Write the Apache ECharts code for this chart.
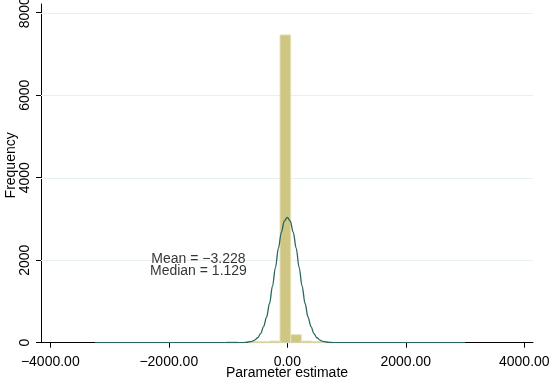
<!DOCTYPE html>
<html>
<head>
<meta charset="utf-8">
<script src="https://cdn.jsdelivr.net/npm/echarts@6/dist/echarts.min.js"></script>
<style>
  html, body { margin: 0; padding: 0; background: #ffffff; }
  #chart { width: 549px; height: 381px; }
</style>
</head>
<body>
<div id="chart"></div>
<script>
// Histogram bins (lower/upper edges) and frequencies
const binLower = [-1023, -663, -483, -303, -123, 57, 237, 417, 597];
const binUpper = [-843, -483, -303, -123, 57, 237, 417, 597, 777];
const binCount = [25, 25, 30, 40, 7460, 195, 40, 30, 20];

// Fitted normal density, scaled to frequency
const curveX = [-3245, -1000, -800, -700, -600, -550, -500, -450, -400, -350, -300, -250, -200, -150, -100, -50, 0,
                50, 100, 150, 200, 250, 300, 350, 400, 450, 500, 550, 600, 700, 800, 1000, 3000];
const curveY = [0, 0, 1, 6, 30, 62, 120, 220, 390, 620, 950, 1370, 1820, 2290, 2680, 2950, 3040,
                2950, 2680, 2290, 1820, 1370, 950, 620, 390, 220, 120, 62, 30, 6, 1, 0, 0];

// Tick values
const xTicks = [-4000, -2000, 0, 2000, 4000];
const yTicks = [0, 2000, 4000, 6000, 8000];

// Summary statistics shown on the plot
const statLines = ['Mean = \u22123.228', 'Median = 1.129'];
const statAnchor = [-1500, 1880];

const X_MIN = -4157, X_MAX = 4147, Y_MAX = 8210;
const fontFamily = '"Liberation Sans", Arial, Helvetica, sans-serif';

function fmtX(v) {
  const s = Math.abs(v).toFixed(2);
  return (v < 0 ? '\u2212' : '') + s;
}

const chart = echarts.init(document.getElementById('chart'), null, { renderer: 'canvas' });

const barData = binLower.map((lo, i) => [lo, binUpper[i], binCount[i]]);
const curveData = curveX.map((x, i) => [x, curveY[i]]);
const gridData = yTicks.filter(v => v > 0).map(v => [v]);

chart.setOption({
  animation: false,
  backgroundColor: '#ffffff',
  textStyle: { fontFamily: fontFamily },
  grid: { left: 41, right: 16, top: 4, bottom: 38.3, containLabel: false, outerBoundsMode: 'none' },
  xAxis: {
    type: 'value',
    min: X_MIN,
    max: X_MAX,
    name: 'Parameter estimate',
    nameLocation: 'middle',
    nameGap: 23,
    nameMoveOverlap: false,
    nameTextStyle: { color: '#000', fontSize: 14, fontFamily: fontFamily },
    axisLine: { show: true, onZero: false, lineStyle: { color: '#000', width: 1 } },
    axisTick: { show: true, length: 5, customValues: xTicks, lineStyle: { color: '#000' } },
    axisLabel: {
      customValues: xTicks,
      formatter: fmtX,
      alignMinLabel: 'center',
      alignMaxLabel: 'center',
      color: '#000', fontSize: 14, fontFamily: fontFamily, margin: 12
    },
    splitLine: { show: false }
  },
  yAxis: {
    type: 'value',
    min: 0,
    max: Y_MAX,
    name: 'Frequency',
    nameLocation: 'middle',
    nameRotate: 90,
    nameGap: 23,
    nameMoveOverlap: false,
    nameTextStyle: { color: '#000', fontSize: 14, fontFamily: fontFamily, padding: [0, 0, 0, 16] },
    axisLine: { show: true, onZero: false, lineStyle: { color: '#000', width: 1 } },
    axisTick: { show: true, length: 5, customValues: yTicks, lineStyle: { color: '#000' } },
    axisLabel: {
      customValues: yTicks,
      rotate: 90,
      alignMinLabel: 'center',
      alignMaxLabel: 'center',
      color: '#000', fontSize: 14, fontFamily: fontFamily, margin: 9,
      formatter: v => String(v)
    },
    splitLine: { show: false }
  },
  series: [
    {
      // horizontal reference lines behind the bars
      type: 'custom',
      z: 1,
      silent: true,
      data: gridData,
      encode: { y: 0 },
      renderItem: function (params, api) {
        const a = api.coord([X_MIN, api.value(0)]);
        const b = api.coord([X_MAX, api.value(0)]);
        return {
          type: 'line',
          shape: { x1: a[0], y1: Math.round(a[1]) + 0.5, x2: b[0], y2: Math.round(b[1]) + 0.5 },
          style: { stroke: '#e6eff2', lineWidth: 1 }
        };
      }
    },
    {
      type: 'custom',
      z: 2,
      data: barData,
      encode: { x: [0, 1], y: 2 },
      renderItem: function (params, api) {
        const top = api.coord([api.value(0), api.value(2)]);
        const bottom = api.coord([api.value(1), 0]);
        return {
          type: 'rect',
          shape: {
            x: top[0],
            y: top[1],
            width: bottom[0] - top[0],
            height: bottom[1] - top[1]
          },
          style: { fill: '#d0c684', stroke: '#e6e0b6', lineWidth: 1 }
        };
      }
    },
    {
      type: 'line',
      z: 3,
      data: curveData,
      smooth: 0.35,
      smoothMonotone: 'x',
      showSymbol: false,
      symbol: 'none',
      lineStyle: { color: '#27685f', width: 1.3 }
    },
    {
      type: 'scatter',
      z: 4,
      symbolSize: 0,
      silent: true,
      data: [statAnchor],
      label: {
        show: true,
        position: 'inside',
        formatter: statLines.join('\n'),
        color: '#000',
        fontSize: 14,
        lineHeight: 12,
        align: 'center',
        fontFamily: fontFamily
      }
    }
  ]
});
</script>
</body>
</html>
